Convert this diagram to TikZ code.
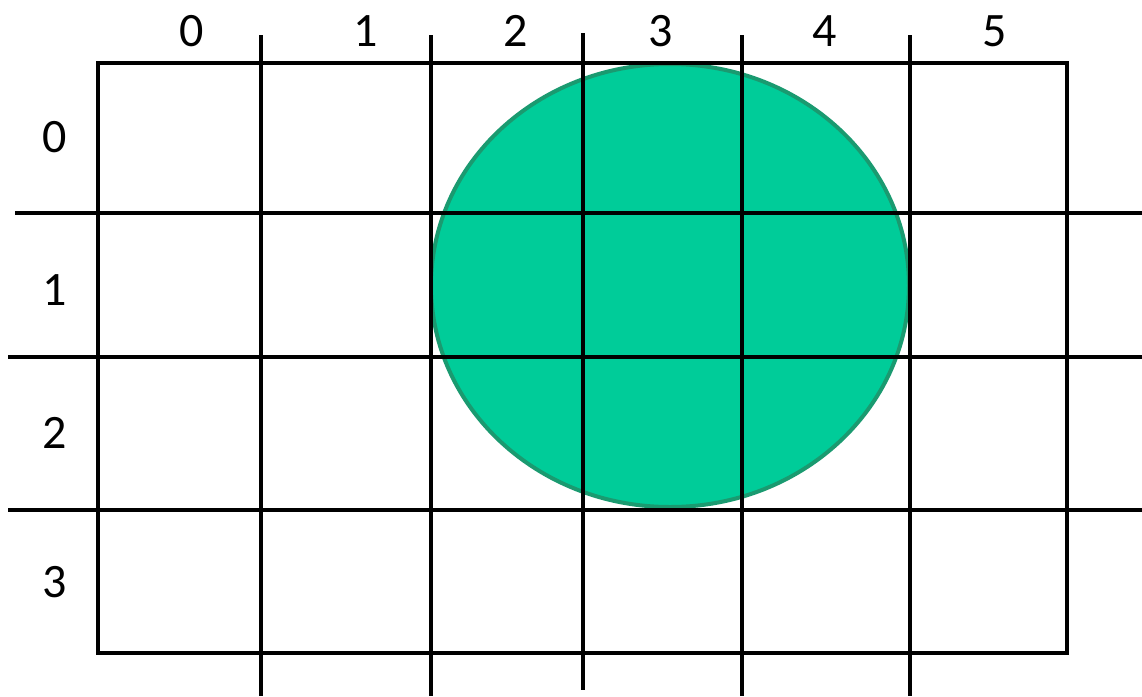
\documentclass[tikz,border=0pt]{standalone}
\usepackage{fontspec}
\setmainfont{Carlito}
\definecolor{disc}{HTML}{00CC99}
\definecolor{discedge}{HTML}{1A9A70}
\tikzset{px/.style={x=1pt,y=-1pt,line width=4.5pt,font=\fontsize{48}{50}\selectfont}}

\begin{document}
\begin{tikzpicture}[px]
  \useasboundingbox (0,0) rectangle (1142,696);
  \fill[disc,draw=discedge,line width=4pt] (670,285.5) ellipse (239 and 221.5);
  \draw (98,63) rectangle (1067,653);
  \foreach \x in {261,431,742,910} \draw (\x,35)--(\x,696);
  \draw (583,33)--(583,690);
  \draw (15,213)--(1142,213);\draw (8,357)--(1142,357);\draw (8,510)--(1142,510);
  \foreach \n/\x in {0/192,1/366,2/516,3/661,4/825,5/995} \node (col\n) at (\x,31){\n};
  \foreach \n/\y in {0/137.5,1/290,2/433,3/582} \node (row\n) at (55,\y){\n};
\end{tikzpicture}
\end{document}
